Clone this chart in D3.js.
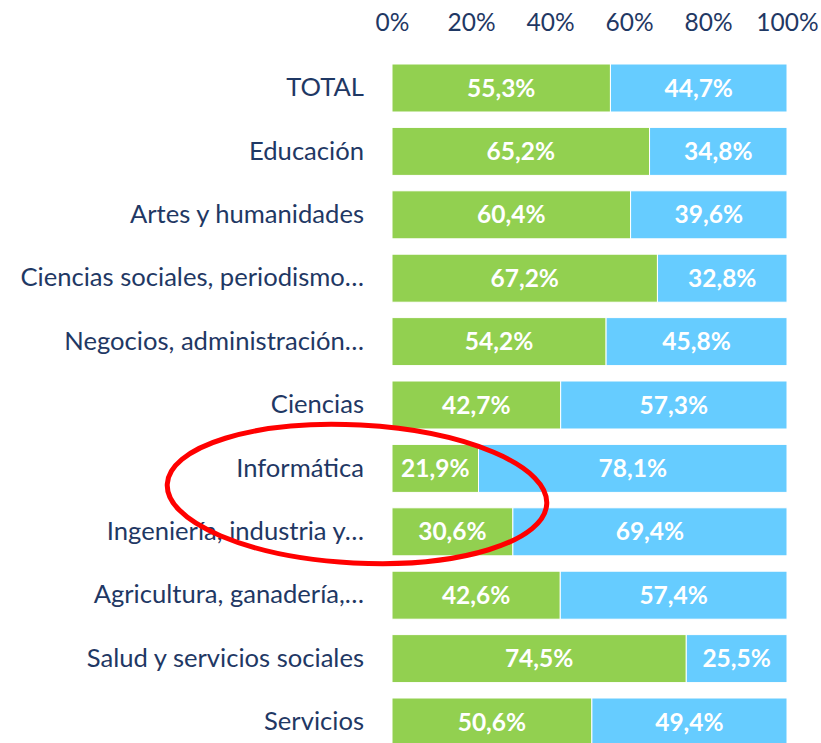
<!DOCTYPE html>
<html>
<head>
<meta charset="utf-8">
<script src="https://cdn.jsdelivr.net/npm/d3@7"></script>
<style>
  body { margin: 0; background: #fff; }
  text { font-family: Lato, "Open Sans", sans-serif; }
</style>
</head>
<body>
<div class="chart"></div>
<script>
// Stacked 100% bar chart: women vs men by field

var categories = ["TOTAL", "Educación", "Artes y humanidades", "Ciencias sociales, periodismo…",
  "Negocios, administración…", "Ciencias", "Informática", "Ingeniería, industria y…",
  "Agricultura, ganadería,…", "Salud y servicios sociales", "Servicios"];
var mujeres = [55.3, 65.2, 60.4, 67.2, 54.2, 42.7, 21.9, 30.6, 42.6, 74.5, 50.6];
var hombres = [44.7, 34.8, 39.6, 32.8, 45.8, 57.3, 78.1, 69.4, 57.4, 25.5, 49.4];
var ticks = [0, 20, 40, 60, 80, 100];

var svgWidth = 821, svgHeight = 743;
var colors = ["#92d050", "#66ccff"];

var svg = d3.select(".chart").append("svg")
  .attr("width", svgWidth)
  .attr("height", svgHeight);

var x = d3.scaleLinear().domain([0, 100]).range([392, 787]);
var y = d3.scaleBand().domain(categories).range([56.3, 56.3 + 63.4 * 11]).paddingInner(0.243).paddingOuter(0.1215);

// top axis (labels only)
var xAxis = svg.append("g")
  .attr("transform", "translate(0, 31)")
  .call(d3.axisTop(x).tickValues(ticks).tickFormat(d => d + "%").tickSize(0).tickPadding(0));
xAxis.select(".domain").remove();
xAxis.selectAll("text")
  .attr("fill", "#1f3864")
  .style("font-size", "24.5px")
  .style("font-family", "Lato, sans-serif");

// category labels
var yAxis = svg.append("g")
  .attr("transform", "translate(364, 0)")
  .call(d3.axisLeft(y).tickSize(0).tickPadding(0));
yAxis.select(".domain").remove();
yAxis.selectAll("text")
  .attr("fill", "#1f3864")
  .style("font-size", "25.6px")
  .style("font-family", "Lato, sans-serif");

var rows = categories.map((c, i) => ({ cat: c, m: mujeres[i], h: hombres[i] }));

// segments
var bars = svg.append("g");
bars.selectAll("rect.m")
  .data(rows)
  .enter()
  .append("rect")
  .attr("x", x(0))
  .attr("y", d => y(d.cat))
  .attr("width", d => x(d.m) - x(0))
  .attr("height", y.bandwidth())
  .attr("fill", colors[0])
  .attr("stroke", "#fff")
  .attr("stroke-width", 1);

bars.selectAll("rect.h")
  .data(rows)
  .enter()
  .append("rect")
  .attr("x", d => x(d.m))
  .attr("y", d => y(d.cat))
  .attr("width", d => x(d.m + d.h) - x(d.m))
  .attr("height", y.bandwidth())
  .attr("fill", colors[1])
  .attr("stroke", "#fff")
  .attr("stroke-width", 1);

var fmt = v => v.toFixed(1).replace(".", ",") + "%";

bars.selectAll("text.m")
  .data(rows)
  .enter()
  .append("text")
  .attr("x", d => (x(0) + x(d.m)) / 2)
  .attr("y", d => y(d.cat) + y.bandwidth() / 2)
  .attr("dy", "0.35em")
  .attr("text-anchor", "middle")
  .attr("fill", "#fff")
  .style("font-size", "24.5px")
  .style("font-weight", "bold")
  .text(d => fmt(d.m));

bars.selectAll("text.h")
  .data(rows)
  .enter()
  .append("text")
  .attr("x", d => (x(d.m) + x(100)) / 2)
  .attr("y", d => y(d.cat) + y.bandwidth() / 2)
  .attr("dy", "0.35em")
  .attr("text-anchor", "middle")
  .attr("fill", "#fff")
  .style("font-size", "24.5px")
  .style("font-weight", "bold")
  .text(d => fmt(d.h));

// red highlight ellipse around Informática
svg.append("ellipse")
  .attr("cx", 357)
  .attr("cy", 494)
  .attr("rx", 190)
  .attr("ry", 69)
  .attr("transform", "rotate(3, 357, 494)")
  .attr("fill", "none")
  .attr("stroke", "#ff0000")
  .attr("stroke-width", 5);
</script>
</body>
</html>
